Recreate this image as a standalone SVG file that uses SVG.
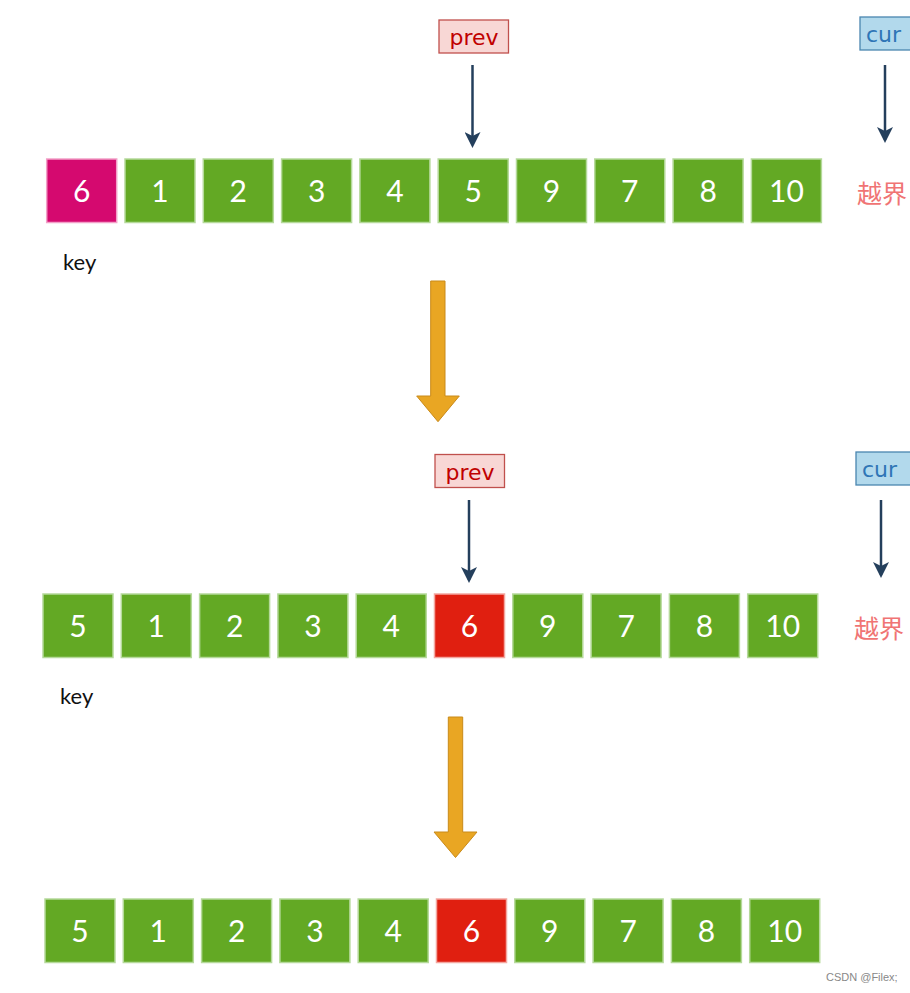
<svg xmlns="http://www.w3.org/2000/svg" width="910" height="993" viewBox="0 0 910 993">
<style>
.box{fill:#63a924;stroke:#b5d99a;stroke-width:1.5}
.key{fill:#d5096f;stroke:#f2a0c8;stroke-width:1.5}
.red{fill:#e01f10;stroke:#f3a7a0;stroke-width:1.5}
.num{font-family:Lato,"Liberation Sans",sans-serif;font-size:30px;fill:#fff;text-anchor:middle}
.lbl{font-family:Lato,"Liberation Sans",sans-serif;font-size:22px;fill:#111}
.prevb{fill:#f8d7d5;stroke:#c0504d;stroke-width:1.3}
.prevt{font-family:"DejaVu Sans",sans-serif;font-size:22px;fill:#c00000;text-anchor:middle}
.curb{fill:#b2d9ec;stroke:#4a86b0;stroke-width:1.3}
.curt{font-family:"DejaVu Sans",sans-serif;font-size:22px;fill:#2e75b6}
.arr{stroke:#243f5c;stroke-width:2.5;fill:none;marker-end:url(#ah)}
.oob{font-family:"Noto Sans CJK SC",sans-serif;font-size:25px;fill:#f07474}
.big{fill:#e9a623;stroke:#c98a1a;stroke-width:1}
</style>
<defs>
<marker id="ah" viewBox="0 0 16 16" refX="13" refY="8" markerWidth="16" markerHeight="16" markerUnits="userSpaceOnUse" orient="auto">
<path d="M0,0 L16,8 L0,16 L4,8 Z" fill="#243f5c"/>
</marker>
</defs>
<rect width="910" height="993" fill="#fff"/>

<g id="row1">
<rect class="key" x="46.7" y="159" width="70" height="63.5"/><text class="num" x="81.7" y="202">6</text>
<rect class="box" x="125" y="159" width="70" height="63.5"/><text class="num" x="160" y="202">1</text>
<rect class="box" x="203.3" y="159" width="70" height="63.5"/><text class="num" x="238.3" y="202">2</text>
<rect class="box" x="281.6" y="159" width="70" height="63.5"/><text class="num" x="316.6" y="202">3</text>
<rect class="box" x="359.9" y="159" width="70" height="63.5"/><text class="num" x="394.9" y="202">4</text>
<rect class="box" x="438.2" y="159" width="70" height="63.5"/><text class="num" x="473.2" y="202">5</text>
<rect class="box" x="516.5" y="159" width="70" height="63.5"/><text class="num" x="551.5" y="202">9</text>
<rect class="box" x="594.8" y="159" width="70" height="63.5"/><text class="num" x="629.8" y="202">7</text>
<rect class="box" x="673.1" y="159" width="70" height="63.5"/><text class="num" x="708.1" y="202">8</text>
<rect class="box" x="751.4" y="159" width="70" height="63.5"/><text class="num" x="786.4" y="202">10</text>
</g>
<g id="key1"><text class="lbl" x="63" y="270">key</text></g>
<g id="prev1"><rect class="prevb" x="439" y="20" width="69.5" height="33"/><text class="prevt" x="474" y="45">prev</text></g>
<g id="cur1"><rect class="curb" x="860" y="17" width="60" height="33"/><text class="curt" x="866" y="42">cur</text></g>
<g id="oob1"><text class="oob" x="857" y="203">越界</text></g>

<g id="row2">
<rect class="box" x="43" y="594" width="70" height="63.5"/><text class="num" x="78" y="637">5</text>
<rect class="box" x="121.3" y="594" width="70" height="63.5"/><text class="num" x="156.3" y="637">1</text>
<rect class="box" x="199.6" y="594" width="70" height="63.5"/><text class="num" x="234.6" y="637">2</text>
<rect class="box" x="277.9" y="594" width="70" height="63.5"/><text class="num" x="312.9" y="637">3</text>
<rect class="box" x="356.2" y="594" width="70" height="63.5"/><text class="num" x="391.2" y="637">4</text>
<rect class="red" x="434.5" y="594" width="70" height="63.5"/><text class="num" x="469.5" y="637">6</text>
<rect class="box" x="512.8" y="594" width="70" height="63.5"/><text class="num" x="547.8" y="637">9</text>
<rect class="box" x="591.1" y="594" width="70" height="63.5"/><text class="num" x="626.1" y="637">7</text>
<rect class="box" x="669.4" y="594" width="70" height="63.5"/><text class="num" x="704.4" y="637">8</text>
<rect class="box" x="747.7" y="594" width="70" height="63.5"/><text class="num" x="782.7" y="637">10</text>
</g>
<g id="key2"><text class="lbl" x="60" y="704">key</text></g>
<g id="prev2"><rect class="prevb" x="435" y="454.5" width="69.5" height="33"/><text class="prevt" x="470" y="480">prev</text></g>
<g id="cur2"><rect class="curb" x="856" y="452" width="60" height="33"/><text class="curt" x="862" y="477">cur</text></g>
<g id="oob2"><text class="oob" x="854" y="638">越界</text></g>

<g id="row3">
<rect class="box" x="45" y="899" width="70" height="63.5"/><text class="num" x="80" y="942">5</text>
<rect class="box" x="123.3" y="899" width="70" height="63.5"/><text class="num" x="158.3" y="942">1</text>
<rect class="box" x="201.6" y="899" width="70" height="63.5"/><text class="num" x="236.6" y="942">2</text>
<rect class="box" x="279.9" y="899" width="70" height="63.5"/><text class="num" x="314.9" y="942">3</text>
<rect class="box" x="358.2" y="899" width="70" height="63.5"/><text class="num" x="393.2" y="942">4</text>
<rect class="red" x="436.5" y="899" width="70" height="63.5"/><text class="num" x="471.5" y="942">6</text>
<rect class="box" x="514.8" y="899" width="70" height="63.5"/><text class="num" x="549.8" y="942">9</text>
<rect class="box" x="593.1" y="899" width="70" height="63.5"/><text class="num" x="628.1" y="942">7</text>
<rect class="box" x="671.4" y="899" width="70" height="63.5"/><text class="num" x="706.4" y="942">8</text>
<rect class="box" x="749.7" y="899" width="70" height="63.5"/><text class="num" x="784.7" y="942">10</text>
</g>

<g id="connectors">
<line class="arr" x1="472.5" y1="65" x2="472.5" y2="145"/>
<line class="arr" x1="885" y1="65" x2="885" y2="140"/>
<line class="arr" x1="469" y1="500" x2="469" y2="580"/>
<line class="arr" x1="881" y1="500" x2="881" y2="575"/>
<path class="big" d="M430.7,281 H445 V396 H459.3 L438,421.7 L416.7,396 H430.7 Z"/>
<path class="big" d="M448.3,717 H462.7 V832 H477 L455.5,857.5 L434,832 H448.3 Z"/>
</g>
<text x="826" y="981" font-family="Liberation Sans,sans-serif" font-size="11" fill="#888">CSDN @Filex;</text>
</svg>
